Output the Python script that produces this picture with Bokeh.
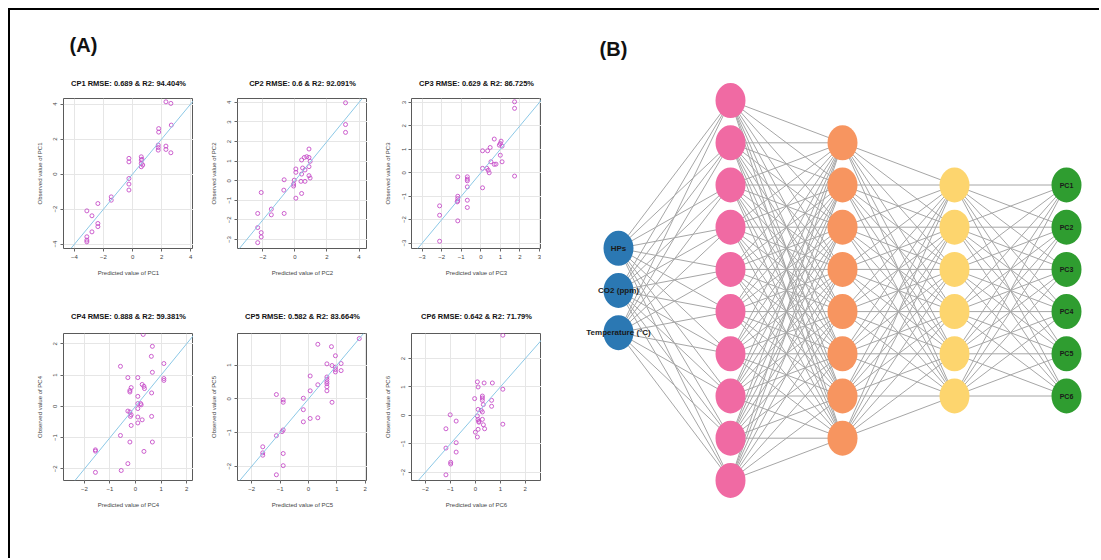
from bokeh.plotting import figure
from bokeh.layouts import row, column, Spacer
from bokeh.models import Range1d, Slope, FixedTicker
from bokeh.embed import file_html
from bokeh.resources import INLINE
from bokeh.core.properties import value

# ---------------- data: panel (A) ----------------
titles = ["CP1 RMSE: 0.689 & R2: 94.404%", "CP2 RMSE: 0.6 & R2: 92.091%",
          "CP3 RMSE: 0.629 & R2: 86.725%", "CP4 RMSE: 0.888 & R2: 59.381%",
          "CP5 RMSE: 0.582 & R2: 83.664%", "CP6 RMSE: 0.642 & R2: 71.79%"]
pc_names = ["PC1", "PC2", "PC3", "PC4", "PC5", "PC6"]

pc1_pred = [2.30, 2.64, 2.67, 1.80, 1.80, 1.77, 1.77, 1.77, 2.30, 2.30, 2.64, 0.60, 0.60, 0.60, 0.60, 0.65, 0.70,
            -0.25, -0.25, -0.25, -0.25, -0.25, -1.47, -1.47, -2.39, -3.15, -2.80, -2.39, -2.39, -2.80, -3.15, -3.15, -3.15]
pc1_obs = [4.13, 4.04, 2.80, 2.60, 2.40, 1.66, 1.52, 1.37, 1.60, 1.41, 1.22, 0.99, 0.80, 0.61, 0.42, 0.85, 0.52,
           0.90, 0.70, -0.25, -0.57, -0.91, -1.30, -1.49, -1.68, -2.10, -2.38, -2.82, -3.00, -3.30, -3.58, -3.77, -3.87]

pc2_pred = [3.16, 3.16, 3.16, 0.88, 0.88, 0.74, 0.59, 0.42, 0.95, 0.06, 0.06, 0.48, 0.63, 0.88, 0.42, 0.88, 0.95,
            0.63, 0.38, -0.04, -0.08, -0.08, -0.67, -0.69, 0.42, 0.06, -2.10, -1.47, -1.47, -0.67, -2.32, -2.32,
            -2.10, -2.10, -2.32]
pc2_obs = [3.98, 2.87, 2.47, 1.62, 1.19, 1.23, 1.19, 1.06, 0.99, 0.60, 0.43, 0.65, 0.55, 0.72, 0.34, 0.26, 0.14,
           -0.03, -0.03, 0.03, -0.17, -0.27, 0.05, -0.48, -0.65, -0.89, -0.60, -1.45, -1.74, -1.67, -1.67, -2.39,
           -2.65, -2.87, -3.16]

pc3_pred = [1.73, 1.73, 0.69, 1.04, 1.00, 0.95, 1.09, 0.48, 0.09, 0.35, 1.00, 1.09, 0.52, 0.78, 0.69, 0.09, 0.31,
            0.38, 0.43, 1.73, -1.18, -0.69, -0.69, -0.69, -0.69, 0.09, -1.18, -1.18, -1.18, -1.21, -0.69, -0.69,
            -2.11, -2.11, -1.18, -2.11]
pc3_obs = [3.03, 2.75, 1.44, 1.35, 1.25, 1.18, 1.14, 1.08, 0.94, 0.94, 0.75, 0.47, 0.47, 0.37, 0.36, 0.19, 0.19,
           0.11, 0.00, -0.14, -0.17, -0.17, -0.27, -0.34, -0.60, -0.64, -1.00, -1.10, -1.20, -1.24, -1.17, -1.48,
           -1.41, -1.81, -2.05, -2.92]

pc4_pred = [0.30, 0.66, 0.62, 1.11, -0.59, 0.66, -0.30, 0.09, 1.11, 1.11, 0.26, 0.33, 0.35, -0.17, -0.22, -0.22,
            0.63, 0.09, 0.09, 0.20, 0.22, 0.09, -0.30, -0.22, -0.17, -0.20, 0.09, 0.63, 0.26, 0.09, -0.17, -0.59,
            -0.22, 0.66, -1.57, -1.57, 0.33, -0.30, -0.56, -1.57]
pc4_obs = [2.30, 1.92, 1.60, 1.37, 1.28, 1.09, 0.92, 0.92, 0.89, 0.83, 0.70, 0.64, 0.57, 0.60, 0.51, 0.46, 0.43,
           0.32, 0.09, 0.09, 0.05, -0.07, -0.15, -0.18, -0.27, -0.32, -0.34, -0.32, -0.43, -0.53, -0.61, -0.93,
           -1.14, -1.14, -1.39, -1.43, -1.44, -1.83, -2.05, -2.11]

pc5_pred = [1.79, 0.33, 0.81, 0.95, 0.65, 0.83, 0.95, 1.15, 0.95, 0.95, 1.15, 0.06, 0.65, 0.65, 0.65, 0.65, 0.65,
            0.65, 0.33, 0.06, -1.13, -0.89, -0.89, -0.18, 0.83, -0.18, -0.18, 0.06, 0.33, -0.89, -0.93, -1.13,
            -1.61, -1.61, -1.61, -0.89, -0.89, -1.13]
pc5_obs = [1.79, 1.62, 1.55, 1.28, 1.04, 0.99, 0.94, 1.05, 0.87, 0.80, 0.84, 0.68, 0.65, 0.58, 0.51, 0.45, 0.36,
           0.24, 0.42, 0.24, 0.13, -0.03, -0.10, 0.02, -0.10, -0.32, -0.68, -0.58, -0.56, -0.92, -0.97, -1.09,
           -1.42, -1.60, -1.67, -1.62, -1.98, -2.25]

pc6_pred = [1.10, 0.08, 0.11, 0.35, 0.68, 1.10, -0.03, 0.28, 0.28, 0.28, 0.65, 0.65, 0.32, 0.11, 0.23, 0.28, 0.08,
            0.11, 0.14, 0.14, 0.28, -1.01, -0.77, 0.32, 0.37, 0.00, 0.11, 0.08, 1.10, -1.18, -0.77, -1.18, -0.77,
            -0.99, -0.99, -1.18]
pc6_obs = [2.82, 1.18, 1.00, 1.14, 1.14, 0.92, 0.59, 0.68, 0.61, 0.53, 0.53, 0.32, 0.38, 0.21, 0.18, 0.12, -0.02,
           -0.15, -0.21, -0.24, -0.14, 0.02, -0.20, -0.33, -0.47, -0.59, -0.49, -0.76, -0.31, -0.47, -0.96, -1.15,
           -1.29, -1.65, -1.71, -2.09]

x_ticks = [[-4, -2, 0, 2, 4], [-2, 0, 2, 4], [-3, -2, -1, 0, 1, 2, 3],
           [-2, -1, 0, 1, 2], [-2, -1, 0, 1, 2], [-2, -1, 0, 1, 2]]
y_ticks = [[-4, -2, 0, 2, 4], [-3, -2, -1, 0, 1, 2, 3, 4], [-3, -2, -1, 0, 1, 2, 3],
           [-2, -1, 0, 1, 2], [-2, -1, 0, 1], [-2, -1, 0, 1, 2]]

# ---------------- data: panel (B) ----------------
layer_sizes = [3, 10, 8, 6, 6]
layer_colors = ["#2b78b3", "#f06aa3", "#f79560", "#fdd56e", "#2f9d30"]
input_labels = ["HPs", "CO2 (ppm)", "Temperature (°C)"]
output_labels = ["PC1", "PC2", "PC3", "PC4", "PC5", "PC6"]

# ---------------- styling / layout ----------------
FONT = "Liberation Sans"
x_lims = [(-4.76, 4.2), (-3.58, 4.53), (-3.55, 3.11), (-2.82, 2.27), (-2.5, 2.08), (-2.56, 2.65)]
y_lims = [(-4.25, 4.32), (-3.46, 4.2), (-3.23, 3.17), (-2.37, 2.33), (-2.42, 1.94), (-2.29, 2.88)]
preds = [pc1_pred, pc2_pred, pc3_pred, pc4_pred, pc5_pred, pc6_pred]
obss = [pc1_obs, pc2_obs, pc3_obs, pc4_obs, pc5_obs, pc6_obs]


def make_panel(i, width, left, height, top, bottom, standoff):
    p = figure(width=width, height=height, x_range=Range1d(*x_lims[i]), y_range=Range1d(*y_lims[i]),
               output_backend="svg", toolbar_location=None, title=titles[i],
               min_border_left=left, min_border_right=0, min_border_top=top, min_border_bottom=bottom)
    p.title.text_font = FONT
    p.title.text_font_size = "7.5px"
    p.title.text_font_style = "bold"
    p.title.align = "center"
    p.title.text_color = "#111111"
    p.title.standoff = standoff
    p.outline_line_color = "#5a5a5a"
    p.outline_line_width = 1
    p.background_fill_color = "white"
    p.border_fill_color = "white"
    for ax, ticks, lab in ((p.xaxis, x_ticks[i], "Predicted value of " + pc_names[i]),
                           (p.yaxis, y_ticks[i], "Observed value of " + pc_names[i])):
        ax.ticker = FixedTicker(ticks=ticks)
        ax.axis_label = lab
        ax.axis_label_text_font = FONT
        ax.axis_label_text_font_size = "6px"
        ax.axis_label_text_font_style = "normal"
        ax.axis_label_text_color = "#444444"
        ax.axis_label_standoff = 8
        ax.major_label_text_font = FONT
        ax.major_label_text_font_size = "6px"
        ax.major_label_text_color = "#444444"
        ax.major_label_standoff = 3
        ax.axis_line_color = None
        ax.major_tick_line_color = "#666666"
        ax.major_tick_in = 0
        ax.major_tick_out = 3
        ax.minor_tick_line_color = None
    p.yaxis.major_label_orientation = "vertical"
    p.xgrid.grid_line_color = "#e6e6e6"
    p.ygrid.grid_line_color = "#e6e6e6"
    p.add_layout(Slope(gradient=1, y_intercept=0, line_color="#8cc8e6", line_width=1))
    p.scatter(x=preds[i], y=obss[i], marker="circle", size=4, fill_color=None,
              line_color="#c64fc8", line_width=0.9)
    return p


ROW1_H, ROW1_TOP, ROW1_BOT = 230, 36, 44
ROW2_H, ROW2_TOP, ROW2_BOT = 266, 41, 78
widths = [183, 174, 174]
lefts = [53, 44, 44]

panels = []
for i in range(6):
    r = i // 3
    c = i % 3
    if r == 0:
        panels.append(make_panel(i, widths[c], lefts[c], ROW1_H, ROW1_TOP, ROW1_BOT, 22))
    else:
        panels.append(make_panel(i, widths[c], lefts[c], ROW2_H, ROW2_TOP, ROW2_BOT, 25))

# header with (A)
hdr = figure(width=531, height=52, x_range=Range1d(10, 541), y_range=Range1d(62, 10),
             output_backend="svg", toolbar_location=None, min_border=0)
hdr.axis.visible = False
hdr.grid.visible = False
hdr.outline_line_color = None
hdr.text(x=[83], y=[44], text=["(A)"], text_font=value(FONT), text_font_size="20px",
         text_font_style="bold", text_align="center", text_baseline="middle", text_color="#111111")

left_panel = column(hdr, row(*panels[:3]), row(*panels[3:]))

# ---------------- network (B) ----------------
NW, NH = 558, 548
net = figure(width=NW, height=NH, x_range=Range1d(541, 541 + NW), y_range=Range1d(10 + NH, 10),
             output_backend="svg", toolbar_location=None, min_border=0)
net.axis.visible = False
net.grid.visible = False
net.outline_line_color = None

layer_x0, layer_dx = 618, 112
y_mid, node_dy = 290, 42.2
node_w, node_h = 30, 35

pos = []
for k, n in enumerate(layer_sizes):
    xs = [layer_x0 + k * layer_dx] * n
    ys = [y_mid + (j - (n - 1) / 2) * node_dy for j in range(n)]
    pos.append((xs, ys))

x0s, y0s, x1s, y1s = [], [], [], []
for k in range(len(layer_sizes) - 1):
    ax_, ay_ = pos[k]
    bx_, by_ = pos[k + 1]
    for a in range(len(ax_)):
        for b in range(len(bx_)):
            x0s.append(ax_[a]); y0s.append(ay_[a]); x1s.append(bx_[b]); y1s.append(by_[b])
net.segment(x0=x0s, y0=y0s, x1=x1s, y1=y1s, line_color="#a6a6a6", line_width=1)

for k, (xs, ys) in enumerate(pos):
    net.ellipse(x=xs, y=ys, width=node_w, height=node_h, fill_color=layer_colors[k], line_color=None)

net.text(x=pos[0][0], y=pos[0][1], text=input_labels, text_font=value(FONT), text_font_size="8px",
         text_font_style="bold", text_align="center", text_baseline="middle", text_color="#1a1a1a")
net.text(x=pos[-1][0], y=pos[-1][1], text=output_labels, text_font=value(FONT), text_font_size="7px",
         text_font_style="bold", text_align="center", text_baseline="middle", text_color="#1a1a1a")
net.text(x=[613], y=[48], text=["(B)"], text_font=value(FONT), text_font_size="20px",
         text_font_style="bold", text_align="center", text_baseline="middle", text_color="#111111")

content = row(left_panel, net, styles={"border-top": "2px solid black", "border-left": "2px solid black"})
layout = column(Spacer(width=8, height=8), row(Spacer(width=8, height=8), content))

open("out.html", "w").write(file_html(layout, INLINE))
